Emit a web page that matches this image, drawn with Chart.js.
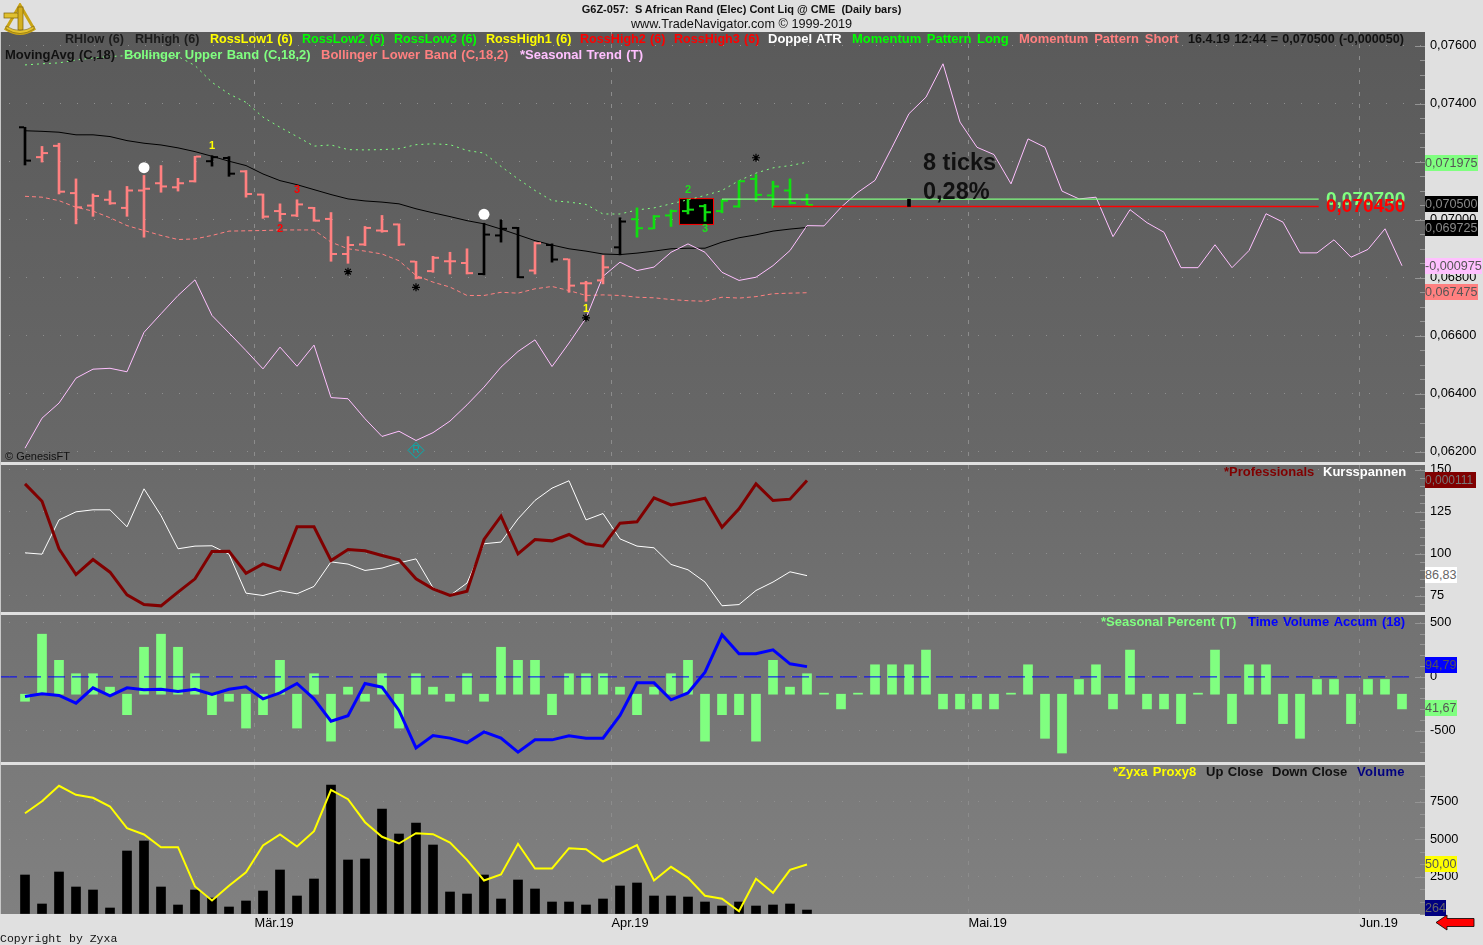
<!DOCTYPE html>
<html><head><meta charset="utf-8">
<script src="https://cdn.jsdelivr.net/npm/chart.js@4"></script>
<style>
html,body{margin:0;padding:0;background:#e0e0e0;width:1483px;height:945px;overflow:hidden;font-family:"Liberation Sans",Arial,sans-serif}
canvas{position:absolute;left:0}
.t{position:absolute;white-space:pre;font:bold 13px/14px "Liberation Sans",Arial,sans-serif;word-spacing:.8px}
.s{font-size:12.6px}
.b{position:absolute;left:1425px;height:16px;font:12.6px/16px "Liberation Sans",Arial,sans-serif;overflow:hidden;white-space:pre;box-sizing:border-box}
</style></head><body>
<canvas id="c1" width="1483" height="440" style="top:22px"></canvas>
<canvas id="c2" width="1483" height="157" style="top:455px"></canvas>
<canvas id="c3" width="1483" height="157" style="top:605px"></canvas>
<canvas id="c4" width="1483" height="190" style="top:755px"></canvas>
<div style="position:absolute;left:0;top:32px;width:1px;height:882px;background:#c8c8c8"></div>

<svg style="position:absolute;left:3px;top:3px" width="33" height="33" viewBox="0 0 33 33">
<path d="M3 26 L17 2 L31 26 Q17 35 3 26 Z" fill="none" stroke="#c9a416" stroke-width="3"/>
<rect x="1" y="10" width="15" height="5" fill="#e0c030" stroke="#7a5f08" stroke-width=".7"/>
<rect x="15" y="4" width="5" height="23" fill="#d4af20" stroke="#7a5f08" stroke-width=".7"/>
<path d="M3 26 Q17 35 31 26 L31 23 Q17 32 3 23 Z" fill="#e6c52e" stroke="#7a5f08" stroke-width=".6"/>
</svg>

<div class="t" style="left:0;width:1483px;text-align:center;top:2px;font-size:11px;color:#111;word-spacing:0">G6Z-057:  S African Rand (Elec) Cont Liq @ CME  (Daily bars)</div>
<div class="t" style="left:0;width:1483px;text-align:center;top:17px;font-weight:normal;font-size:12.7px;color:#111;word-spacing:0">www.TradeNavigator.com © 1999-2019</div>

<div class="t s" style="left:65px;top:32px;color:#1c1c1c">RHlow (6)</div>
<div class="t s" style="left:135px;top:32px;color:#1c1c1c">RHhigh (6)</div>
<div class="t s" style="left:210px;top:32px;color:#ffff00">RossLow1 (6)</div>
<div class="t s" style="left:302px;top:32px;color:#00ff00">RossLow2 (6)</div>
<div class="t s" style="left:394px;top:32px;color:#00ff00">RossLow3 (6)</div>
<div class="t s" style="left:486px;top:32px;color:#ffff00">RossHigh1 (6)</div>
<div class="t s" style="left:580px;top:32px;color:#ff0000">RossHigh2 (6)</div>
<div class="t s" style="left:674px;top:32px;color:#ff0000">RossHigh3 (6)</div>
<div class="t" style="left:768px;top:32px;color:#ffffff">Doppel ATR</div>
<div class="t" style="left:852px;top:32px;color:#00ff00;word-spacing:1.8px">Momentum Pattern Long</div>
<div class="t" style="left:1019px;top:32px;color:#ff8080;word-spacing:2.2px">Momentum Pattern Short</div>
<div class="t s" style="left:1188px;top:32px;color:#111;word-spacing:.7px">16.4.19 12:44 = 0,070500 (-0,000050)</div>
<div class="t" style="left:5px;top:48px;color:#111">MovingAvg (C,18)</div>
<div class="t" style="left:124px;top:48px;color:#80ff80">Bollinger Upper Band (C,18,2)</div>
<div class="t" style="left:321px;top:48px;color:#ff8080">Bollinger Lower Band (C,18,2)</div>
<div class="t" style="left:520px;top:48px;color:#ffc0ff">*Seasonal Trend (T)</div>
<div class="t" style="left:1224px;top:465px;color:#800000">*Professionals</div>
<div class="t" style="left:1323px;top:465px;color:#ffffff">Kursspannen</div>
<div class="t" style="left:1101px;top:615px;color:#80ff80">*Seasonal Percent (T)</div>
<div class="t" style="left:1248px;top:615px;color:#0000ff;word-spacing:1.4px">Time Volume Accum (18)</div>
<div class="t" style="left:1113px;top:765px;color:#ffff00;word-spacing:1.5px">*Zyxa Proxy8</div>
<div class="t" style="left:1206px;top:765px;color:#111">Up Close</div>
<div class="t" style="left:1272px;top:765px;color:#111">Down Close</div>
<div class="t" style="left:1357px;top:765px;color:#000080;letter-spacing:.3px">Volume</div>

<div class="t" style="left:923px;top:148px;font-size:23.5px;line-height:28px;color:#111;word-spacing:0">8 ticks</div>
<div class="t" style="left:923px;top:177px;font-size:23.5px;line-height:28px;color:#111">0,28%</div>
<div class="t" style="left:1326px;top:188px;font-size:19px;line-height:22px;color:#80ff80">0,070700</div>
<div class="t" style="left:1326px;top:195px;font-size:19px;line-height:22px;color:#ff0000">0,070450</div>

<div class="t" style="left:5px;top:449px;font-weight:normal;font-size:11px;color:#111;word-spacing:0">© GenesisFT</div>
<div class="t" style="left:0;top:932px;font:11.5px/14px 'Liberation Mono',monospace;color:#111;word-spacing:0">Copyright by Zyxa</div>

<div class="b" style="top:155px;width:53px;background:#80ff80;color:#555">0,071975</div>
<div class="b" style="top:196px;width:53px;background:#000;color:#8a8a8a">0,070500</div>
<div class="b" style="top:220px;width:53px;background:#000;color:#8a8a8a">0,069725</div>
<div class="b" style="top:258px;width:57px;background:#ffc0ff;color:#555">-0,000975</div>
<div class="b" style="top:284px;width:53px;background:#ff8080;color:#555">0,067475</div>
<div class="b" style="top:472px;width:51px;background:#800000;color:#777;font-size:12px">0,000111</div>
<div class="b" style="top:567px;width:32px;background:#fff;color:#666">86,83</div>
<div class="b" style="top:657px;width:32px;background:#0000ff;color:#555">94,79</div>
<div class="b" style="top:700px;width:32px;background:#80ff80;color:#555">41,67</div>
<div class="b" style="top:856px;width:32px;background:#ffff00;color:#555">50,00</div>
<div class="b" style="top:900px;width:21px;background:#000080;color:#666">264</div>

<svg style="position:absolute;left:1435px;top:914px" width="40" height="17" viewBox="0 0 40 17">
<path d="M1 8.5 L12 1 L12 4.5 L39 4.5 L39 12.5 L12 12.5 L12 16 Z" fill="#ff0000" stroke="#000" stroke-width=".8"/>
</svg>

<script>
// Prices are stored in units of 0.00001.
const priceHigh =[7318,7252,7263,7140,7088,7099,7114,7152,7186,7142,7218,7220,7217,7169,7088,7054,7068,7042,7024,6941,6976,7014,6985,6856,6873,6887,6899,6987,6999,6973,6922,6916,6864,6787,6876,7006,7040,7014,7033,7070,7052,7069,7134,7155,7132,7140,7087];
const priceLow  =[7188,7198,7088,6985,7011,7052,7011,6939,7094,7098,7129,7184,7149,7077,7004,6994,7010,6994,6856,6849,6910,6956,6910,6795,6818,6812,6812,6809,6922,6799,6812,6853,6749,6718,6778,6878,6939,6968,6976,7019,6994,7023,7042,7063,7042,7054,7050];
const priceOpen =[7318,7215,7254,7091,7048,7068,7040,7100,7125,7111,7132,7201,7212,7166,7086,7029,7014,7040,7002,6881,6914,6962,6983,6855,6822,6856,6850,6812,6945,6971,6824,6912,6863,6780,6790,6904,7001,6969,7014,7029,7046,7029,7045,7140,7083,7100,7068];
const priceClose=[7203,7229,7096,7042,7081,7056,7100,7106,7114,7125,7217,7215,7158,7088,7010,7019,7052,6996,6881,6912,6971,6960,6914,6799,6868,6856,6815,6948,6968,6801,6918,6862,6772,6780,6835,6993,6970,7011,7029,7034,7025,7065,7132,7085,7114,7057,7050];
const barKinds="kppppppppppkkppppppppppppppkkkpkpppkggggggggggg";
const movingAvg=[7306,7304,7301,7292,7292,7286,7272,7263,7257,7247,7234,7218,7201,7186,7157,7134,7120,7103,7086,7071,7064,7060,7054,7037,7023,7010,6996,6985,6967,6947,6927,6912,6899,6891,6881,6879,6884,6891,6899,6901,6901,6922,6937,6947,6960,6967,6972.5];
const bollUpper=[7533,7537,7540,7550,7557,7562,7565,7565,7565,7562,7531,7473,7433,7404,7353,7318,7286,7253,7257,7241,7240,7241,7244,7258,7261,7258,7238,7229,7183,7140,7100,7065,7060,7052,7019,7019,7033,7040,7054,7068,7083,7100,7134,7160,7178,7186,7197.5];
const bollLower=[7080,7077,7065,7042,7029,7006,6979,6962,6945,6931,6933,6945,6960,6961,6962,6964,6964,6964,6922,6899,6891,6881,6858,6807,6784,6767,6738,6738,6749,6746,6761,6769,6755,6738,6740,6738,6732,6730,6724,6720,6718,6732,6729,6734,6744,6746,6747.5];
const seasonalTrend=[-726.5,-623,-571,-485,-454,-451,-463,-327,-263,-200,-146,-269,-329,-390,-453,-378,-444,-371,-552,-556,-625,-686,-668,-700,-673,-633,-577,-516,-447,-393,-353,-445,-364,-278,-134,-85,-114,-102,-51,-22,-51,-120,-148,-137,-97,-45,41,40,104,156,197,311,427,484,599,398,311,286,185,340,311,160,133,139,3,96,51,18,-104,-104,-25,-104,-45,82,53,-53,-53,-8,-68,-41,30,-97.5];
const longLevel=7070, shortLevel=7045, longFrom=41, shortFrom=44, levelTo=76.1;
const tickMeasureX=52;
const dotsX=[7,27], dotsY=[7178.6,7017.9];
const starsX=[19,23,43,33], starsY=[6820,6766,7213,6661];
const boxX=[38.5,40.5], boxY=[6983,7072];
const numberText=["1","3","2","2","3","1"], numberX=[11,16,15,39,40,33], numberY=[7253,7102,6967,7102,6966,6690];
const numberColor=["#ffff00","#ff0000","#ff0000","#1de01d","#1de01d","#ffff00"];
const rMarkX=[23], rMarkY=[6204];

const professionals=[105.4,76.5,-2.9,-45.7,-20.7,-41.8,-79.6,-95.7,-97.9,-75.1,-52.9,-7.3,-6.8,-43.5,-27.9,-37.3,33.8,33.8,-22.3,-4,-6.2,-14,-21.2,-52.9,-69.6,-80.7,-73.5,12.7,51.6,-11.2,12.7,10.4,21,5.4,1.5,39.9,42.1,82.1,70.4,75.4,81.5,33.2,63.8,105.4,77.7,79.9,111];
const kursspannen=[100.4,99.6,120,124.8,126,126,115.9,138.5,122.6,102.8,104.4,104.6,99.6,76.4,75,77.8,76,80.4,95,93.7,89.9,91.3,94.4,96.8,79.6,75,82.4,105.8,106.8,120.6,131.6,138.9,143.3,120,123.8,108.7,104.4,103.4,93.5,90.3,83,68.9,69.6,78,83,89.1,86.83];

const seasonalPercent=[-20,170,96,58,58,20,-58,133,170,133,58,-58,-20,-96,-58,96,-96,58,-133,20,-20,58,-96,58,20,-20,58,-20,133,96,96,-58,58,58,58,20,-58,20,58,96,-133,-58,-58,-133,96,20,58,3,-41.67,3,83.33,83.33,83.33,125,-41.67,-41.67,-41.67,-41.67,3,83.33,-125,-166.67,41.67,83.33,-41.67,125,-41.67,-41.67,-83.33,3,125,-83.33,83.33,83.33,-83.33,-125,41.67,41.67,-83.33,41.67,41.67,-41.67];
const timeVolumeAccum=[-181,-157,-172,-243,-101,-175,-101,-120,-114,-135,-114,-163,-114,-92,-203,-148,-61,-203,-410,-360,-61,-95,-311,-657,-543,-567,-610,-509,-567,-697,-583,-583,-546,-567,-567,-357,-55,-55,-212,-148,44,390,214,214,251,121,95];

const volume=[2600,667,2800,1800,1600,400,4200,4867,1800,600,1600,1067,467,867,1533,2933,1200,2333,8600,3600,3667,7000,5333,6067,4600,1467,1333,2600,1000,2267,1667,800,800,600,1000,1867,2067,1200,1200,1133,800,533,800,533,600,667,264];
const zyxaProxy=[101.3,113.3,128.7,119.7,116.7,108,86.3,80,67.3,67.3,28,14,28.7,42.3,69,80,68,83.3,124.7,115.3,92.3,77.7,71,81.3,80.3,72,54.7,34,40,70.7,46,46,66.3,65.3,53,61,69.3,34,47.7,36.7,18.7,15.7,3.3,35.7,21.7,44.7,50];

const monthTicks=[13.5,34.5,55.5,78.5];
const monthLabels=["Mär.19","Apr.19","Mai.19","Jun.19"];
const priceMajor=[7600,7400,7200,7000,6800,6600,6400,6200];
const kursMajor=[150,125,100,75];
const tvaMajor=[500,0,-500];
const volMajor=[7500,5000,2500];

const FONT='"Liberation Sans",Arial,sans-serif';
const XMIN=-25/17, XMAX=1400/17;
const GREEN="#10e010", PINK="#ff8080", BLACK="#000000";
const kindColor={k:BLACK,p:PINK,g:GREEN};
const pts=(arr)=>arr.map((v,i)=>({x:i,y:v}));
const line=(arr,color,width,yAxisID,extra)=>Object.assign({type:'line',data:pts(arr),borderColor:color,borderWidth:width,pointRadius:0,tension:0,yAxisID,borderJoinStyle:'miter'},extra||{});

function xScale(showLabels){
  return {type:'linear',min:XMIN,max:XMAX,offset:false,
    grid:{display:true,offset:false,color:'#8c8c8c',drawTicks:false,lineWidth:1},
    border:{display:false,dash:[4,8]},
    afterBuildTicks:s=>{s.ticks=monthTicks.map(v=>({value:v}));},
    ticks:{display:showLabels,autoSkip:false,maxRotation:0,align:'start',padding:2,color:'#000',font:{family:FONT,size:12.8},
      callback:v=>monthLabels[monthTicks.indexOf(v)]},
    afterFit:s=>{s.height=showLabels?31:0;s.paddingLeft=0;s.paddingRight=0;}};
}
function yScale(min,max,major,step,fmt){
  return {type:'linear',position:'right',min,max,
    afterBuildTicks:s=>{
      const out=[];const start=Math.ceil(min/step-1e-9);
      for(let k=start;k*step<=max;k++){const v=k*step;out.push({value:Math.abs(v-Math.round(v))<1e-6?Math.round(v):v});}
      s.ticks=out;},
    afterFit:s=>{s.width=58;s.paddingTop=0;s.paddingBottom=0;},
    grid:{drawTicks:false,lineWidth:1,color:c=>major.includes(c.tick&&c.tick.value)?'#8e8e8e':'rgba(0,0,0,0)'},
    border:{display:false,dash:[1,16],dashOffset:8},
    ticks:{autoSkip:false,padding:5,color:'#000',font:{family:FONT,size:12.8},
      callback:v=>major.includes(v)?fmt(v):''}};
}
const hidden=(min,max)=>({type:'linear',display:false,min,max});

const plotBg=(top,bottom)=>({id:'plotBg',beforeDraw(ch){
  const a=ch.chartArea,g=ch.ctx.createLinearGradient(0,a.top,0,a.bottom);
  g.addColorStop(0,top);g.addColorStop(1,bottom);
  ch.ctx.fillStyle=g;ch.ctx.fillRect(a.left,a.top,a.right-a.left,a.bottom-a.top);}});
const axisMarks=(major)=>({id:'axisMarks',afterDatasetsDraw(ch){
  const s=ch.scales.y,ctx=ch.ctx,r=ch.chartArea.right;ctx.save();ctx.fillStyle='#949494';
  s.ticks.forEach(t=>{const l=major.includes(t.value)?10:5;ctx.fillRect(r-l,Math.round(s.getPixelForValue(t.value)),l,1);});
  ctx.restore();}});

const base=(scales)=>({responsive:false,animation:false,devicePixelRatio:1,events:[],
  layout:{autoPadding:false,padding:{top:10,left:0,right:0,bottom:0}},
  plugins:{legend:{display:false},tooltip:{enabled:false}},scales});

// Panel 1 -------------------------------------------------------------
const boxPlugin={id:'patternBox',beforeDatasetsDraw(ch){
  const x=ch.scales.x,y=ch.scales.y,c=ch.ctx;
  const l=x.getPixelForValue(boxX[0]),r=x.getPixelForValue(boxX[1]),t=y.getPixelForValue(boxY[1]),b=y.getPixelForValue(boxY[0]);
  c.save();c.fillStyle='#000';c.fillRect(l,t,r-l,b-t);c.strokeStyle='#ff0000';c.lineWidth=1;c.strokeRect(l,t,r-l,b-t);c.restore();}};
const numbersPlugin={id:'numbers',afterDatasetsDraw(ch){
  const x=ch.scales.x,y=ch.scales.y,c=ch.ctx;c.save();
  c.textAlign='center';c.textBaseline='middle';c.font='bold 11px '+FONT;
  numberText.forEach((t,i)=>{c.fillStyle=numberColor[i];c.fillText(t,x.getPixelForValue(numberX[i]),y.getPixelForValue(numberY[i]));});
  c.fillStyle='#00b2b2';c.font='10px '+FONT;c.fillText('R',x.getPixelForValue(rMarkX[0]),y.getPixelForValue(rMarkY[0]));
  c.restore();}};
const P1MIN=6200-(462-451.5)/.29, P1MAX=7600+(45.5-32)/.29;
new Chart(document.getElementById('c1'),{type:'line',plugins:[plotBg('#5a5a5a','#686868'),boxPlugin,axisMarks(priceMajor),numbersPlugin],
 data:{datasets:[
  {type:'scatter',data:dotsX.map((x,i)=>({x,y:dotsY[i]})),pointStyle:'circle',pointRadius:5.5,pointBackgroundColor:'#fff',pointBorderWidth:0,yAxisID:'y'},
  {type:'scatter',data:starsX.map((x,i)=>({x,y:starsY[i]})),pointStyle:'star',pointRadius:4,pointBorderColor:'#000',pointBorderWidth:1.2,yAxisID:'y'},
  {type:'scatter',data:rMarkX.map((x,i)=>({x,y:rMarkY[i]})),pointStyle:'rectRot',pointRadius:8,pointBackgroundColor:'rgba(0,0,0,0)',pointBorderColor:'#00b2b2',pointBorderWidth:1,yAxisID:'y'},
  {type:'bar',data:[{x:tickMeasureX,y:[shortLevel,longLevel]}],backgroundColor:'#000',barThickness:3,grouped:false,yAxisID:'y'},
  {type:'line',data:[{x:longFrom,y:longLevel},{x:levelTo,y:longLevel}],borderColor:'#80ff80',borderWidth:1.2,pointRadius:0,yAxisID:'y'},
  {type:'line',data:[{x:shortFrom,y:shortLevel},{x:levelTo,y:shortLevel}],borderColor:'#ff0000',borderWidth:1.6,pointRadius:0,yAxisID:'y'},
  {type:'scatter',data:priceOpen.map((v,i)=>({x:i-0.206,y:v})),pointStyle:'line',pointRadius:2.5,pointBorderWidth:2,pointBorderColor:priceOpen.map((v,i)=>kindColor[barKinds[i]]),yAxisID:'y'},
  {type:'scatter',data:priceClose.map((v,i)=>({x:i+0.206,y:v})),pointStyle:'line',pointRadius:2.5,pointBorderWidth:2,pointBorderColor:priceClose.map((v,i)=>kindColor[barKinds[i]]),yAxisID:'y'},
  {type:'bar',data:priceHigh.map((h,i)=>({x:i,y:[priceLow[i],h]})),backgroundColor:priceHigh.map((h,i)=>kindColor[barKinds[i]]),barThickness:2,grouped:false,yAxisID:'y'},
  line(seasonalTrend,'#ffc0ff',1,'ySeason'),
  line(movingAvg,'#000000',1,'y'),
  line(bollUpper,'#80ff80',1,'y',{borderDash:[2,4]}),
  line(bollLower,'#ff8080',1,'y',{borderDash:[4,3]})
 ]},
 options:base({x:xScale(false),
  y:yScale(P1MIN,P1MAX,priceMajor,50,v=>(v/1e5).toFixed(5).replace('.',',')),
  ySeason:hidden((237.5-462)/.29,(237.5-32)/.29)})});

// Panel 2 -------------------------------------------------------------
new Chart(document.getElementById('c2'),{type:'line',plugins:[plotBg('#6a6a6a','#717171'),axisMarks(kursMajor)],
 data:{datasets:[
  line(professionals,'#800000',3,'yPro'),
  line(kursspannen,'#ffffff',1,'y')
 ]},
 options:base({x:xScale(false),
  y:yScale(100-(612-553.5)/1.68,100+(553.5-465)/1.68,kursMajor,5,v=>String(v)),
  yPro:hidden((547.1-612)/.6,(547.1-465)/.6)})});

// Panel 3 -------------------------------------------------------------
new Chart(document.getElementById('c3'),{type:'line',plugins:[plotBg('#727272','#787878'),axisMarks(tvaMajor)],
 data:{datasets:[
  line(timeVolumeAccum,'#0000ff',3,'y'),
  {type:'line',data:[{x:XMIN,y:0},{x:81.5,y:0}],borderColor:'#0000ff',borderWidth:1,borderDash:[17,7],pointRadius:0,yAxisID:'y'},
  {type:'bar',data:pts(seasonalPercent),backgroundColor:'#80ff80',barThickness:9,grouped:false,yAxisID:'yPct'}
 ]},
 options:base({x:xScale(false),
  y:yScale((676.9-762)/.108,(676.9-615)/.108,tvaMajor,100,v=>String(v)),
  yPct:hidden((694.2-762)/.353,(694.2-615)/.353)})});

// Panel 4 -------------------------------------------------------------
new Chart(document.getElementById('c4'),{type:'line',plugins:[plotBg('#7a7a7a','#808080'),axisMarks(volMajor)],
 data:{datasets:[
  line(zyxaProxy,'#ffff00',2,'yProxy'),
  {type:'bar',data:pts(volume),backgroundColor:'#000',barThickness:9,grouped:false,yAxisID:'y'}
 ]},
 options:base({x:xScale(true),
  y:yScale(0,149/.015,volMajor,2500/3,v=>String(v)),
  yProxy:hidden(0.5,149.5)})});
</script>
</body></html>
